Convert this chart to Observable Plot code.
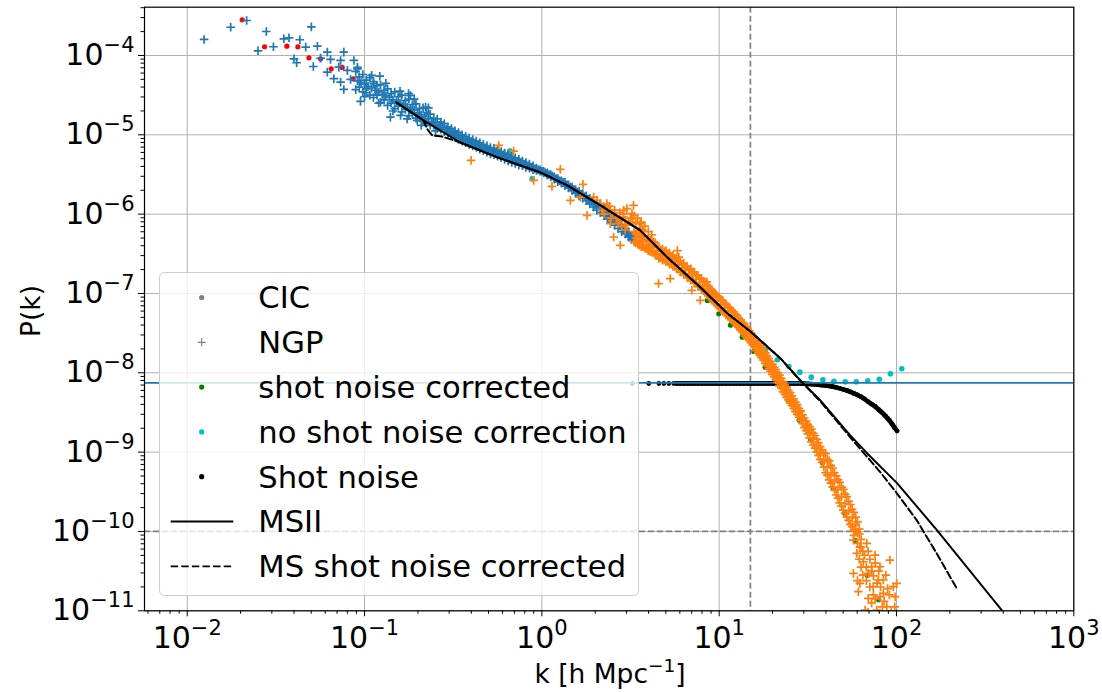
<!DOCTYPE html>
<html><head><meta charset="utf-8">
<script src="https://cdn.jsdelivr.net/npm/d3@7"></script>
<script src="https://cdn.jsdelivr.net/npm/@observablehq/plot@0.6"></script>
<style>html,body{margin:0;padding:0;background:#fff;} #chart{width:1102px;height:692px;}</style>
</head><body><div id="chart"></div>
<script>
// ---------- data (scatter clouds as [log10 k, log10 P] pairs) ----------
const cicCoarseLog = [[-1.690,-3.550],[-1.564,-3.890],[-1.438,-3.883],[-1.376,-3.890],[-1.314,-4.029],[-1.248,-4.042],[-1.188,-4.168],[-1.126,-4.151],[-1.064,-4.294]];

const ngpCoarseLog = [
[-1.905,-3.798],[-1.755,-3.644],[-1.665,-3.559],[-1.554,-3.698],[-1.601,-3.941],[-1.514,-3.890],[-1.455,-3.790],[-1.426,-3.777],[-1.398,-4.042],[-1.383,-4.092],[-1.365,-3.802],[-1.332,-3.895],[-1.300,-3.639],[-1.266,-3.883],[-1.289,-4.139],[-1.248,-4.034],[-1.210,-3.958],[-1.192,-4.050],[-1.210,-4.210],[-1.173,-4.293],[-1.117,-3.958],[-1.135,-4.063],[-1.145,-4.147],[-1.060,-4.063],[-1.097,-4.189],[-1.117,-4.428],[-1.135,-4.336],[-1.079,-4.302],[-1.023,-4.579],[-0.914,-4.261],[-0.948,-4.356],[-0.854,-4.777],[-0.741,-4.504],[-0.797,-4.756],[-0.752,-4.479],[-0.656,-4.651],[-0.990,-4.470],[-1.040,-4.170],[-0.703,-4.819],
[-1.04,-4.15],[-1.00,-4.52],[-0.96,-4.25],[-0.92,-4.60],[-0.88,-4.35],[-0.84,-4.70],[-0.80,-4.45],[-0.76,-4.80],[-0.72,-4.55],[-0.68,-4.88],[-0.64,-4.66],[-0.60,-4.95],
[-1.05,-4.20],[-1.05,-4.43],[-1.03,-4.27],[-1.03,-4.40],[-1.01,-4.24],[-1.01,-4.46],[-0.99,-4.31],[-0.99,-4.42],[-0.97,-4.28],[-0.97,-4.50],[-0.95,-4.33],[-0.95,-4.53],[-0.93,-4.38],[-0.93,-4.50],[-0.91,-4.37],[-0.91,-4.59],[-0.89,-4.44],[-0.89,-4.56],[-0.87,-4.42],[-0.87,-4.63],[-0.85,-4.48],[-0.85,-4.60],[-0.83,-4.46],[-0.83,-4.67],[-0.81,-4.52],[-0.81,-4.64],[-0.79,-4.50],[-0.79,-4.71],[-0.77,-4.57],[-0.77,-4.68],[-0.75,-4.55],[-0.75,-4.76],[-0.73,-4.62],[-0.73,-4.73],[-0.71,-4.61],[-0.71,-4.79],[-0.69,-4.67],[-0.69,-4.78],[-0.67,-4.66],[-0.67,-4.83],[-0.65,-4.72],[-0.65,-4.85],[-0.63,-4.74],[-0.63,-4.88],[-0.61,-4.79],[-0.61,-4.88],[-0.59,-4.80],[-0.59,-4.92],[-0.57,-4.84],[-0.57,-4.93],[-0.55,-4.86],[-0.55,-4.96],[-0.53,-4.90],[-0.53,-4.99],[-0.51,-4.92],[-0.51,-5.01],[-0.49,-4.95],[-0.49,-5.03],[-0.47,-4.97],[-0.47,-5.06],[-0.45,-5.00],[-0.45,-5.08],[-0.43,-5.02],[-0.43,-5.10],[-0.41,-5.04],[-0.41,-5.12],[-0.39,-5.06],[-0.39,-5.14],[-0.37,-5.08],[-0.37,-5.16],[-0.35,-5.10],[-0.35,-5.18],[-0.33,-5.12],[-0.33,-5.20],[-0.31,-5.14],[-0.31,-5.22],[-0.29,-5.16],[-0.29,-5.24],[-0.27,-5.17],[-0.27,-5.25],[-0.25,-5.19],[-0.25,-5.27],[-0.23,-5.21],[-0.23,-5.29],[-0.21,-5.23],[-0.21,-5.31],[-0.19,-5.25],[-0.19,-5.33],[-0.17,-5.27],[-0.17,-5.35],[-0.15,-5.29],[-0.15,-5.36],[-0.13,-5.31],[-0.13,-5.38],[-0.11,-5.33],[-0.11,-5.39],[-0.09,-5.35],[-0.09,-5.41],[-0.07,-5.37],[-0.07,-5.42],[-0.05,-5.39],[-0.05,-5.44],[-0.03,-5.42],[-0.03,-5.45],[-0.01,-5.44],[-0.01,-5.46],[0.01,-5.46],[0.01,-5.48],[0.03,-5.48],[0.03,-5.51],[0.05,-5.50],[0.05,-5.53],[0.07,-5.53],[0.07,-5.56],[0.09,-5.55],[0.09,-5.59],[0.11,-5.58],[0.11,-5.61],[0.13,-5.60],[0.13,-5.64],[0.15,-5.63],[0.15,-5.67],[0.17,-5.66],[0.17,-5.70],[0.19,-5.69],[0.19,-5.74],[0.21,-5.71],[0.21,-5.77],[0.23,-5.74],[0.23,-5.80],[0.25,-5.77],[0.25,-5.83],[0.27,-5.80],[0.27,-5.87],[0.29,-5.83],[0.29,-5.91],[0.31,-5.86],[0.31,-5.95],[0.33,-5.89],[0.33,-5.98],[0.35,-5.93],[0.35,-6.02],[0.37,-5.96],[0.37,-6.06],[0.39,-6.00],[0.39,-6.10],[0.41,-6.04],[0.41,-6.14],[0.43,-6.08],[0.43,-6.18],[0.45,-6.13],[0.45,-6.22],[0.47,-6.18],[0.47,-6.25],[0.49,-6.23],[0.49,-6.29],[0.505,-6.27],[0.505,-6.32],[0.515,-6.31],
[-1.04,-4.32],[-1.02,-4.34],[-1.00,-4.36],[-0.98,-4.39],[-0.96,-4.41],[-0.94,-4.44],[-0.92,-4.46],[-0.90,-4.49],[-0.88,-4.51],[-0.86,-4.53],[-0.84,-4.56],[-0.82,-4.58],[-0.80,-4.60],[-0.78,-4.62],[-0.76,-4.65],[-0.74,-4.67],[-0.72,-4.69],[-0.70,-4.72],[-0.68,-4.75],[-0.66,-4.77],[-0.64,-4.80],[-0.62,-4.83],[-0.60,-4.85],[-0.58,-4.88],[-0.56,-4.91],[-0.54,-4.93],[-0.52,-4.96],[-0.50,-4.98],[-0.48,-5.00],[-0.46,-5.03],[-0.44,-5.05],[-0.42,-5.07],[-0.40,-5.09],[-0.38,-5.11],[-0.36,-5.13],[-0.34,-5.15],[-0.32,-5.17],[-0.30,-5.19],[-0.28,-5.21],[-0.26,-5.22],[-0.24,-5.24],[-0.22,-5.26],[-0.20,-5.28],[-0.18,-5.30],[-0.16,-5.32],[-0.14,-5.34],[-0.12,-5.35],[-0.10,-5.37],[-0.08,-5.39],[-0.06,-5.41],[-0.04,-5.43],[-0.02,-5.44],[0.00,-5.46],[0.02,-5.48],[0.04,-5.50],[0.06,-5.52],[0.08,-5.55],[0.10,-5.58],[0.12,-5.60],[0.14,-5.63],[0.16,-5.66],[0.18,-5.69],[0.20,-5.72],[0.22,-5.75],[0.24,-5.78],[0.26,-5.81],[0.28,-5.84],[0.30,-5.88],[0.32,-5.91],[0.34,-5.95],[0.36,-5.99],[0.38,-6.03],[0.40,-6.06],[0.42,-6.10],[0.44,-6.14],[0.46,-6.19],[0.48,-6.23],[0.50,-6.27]];

const ngpFineLog = [
[-0.399,-5.322],[-0.243,-5.134],[-0.159,-5.205],[0.104,-5.436],[-0.046,-5.574],[0.057,-5.650],[0.232,-5.625],[0.161,-5.826],[0.255,-6.015],[0.217,-5.785],[0.292,-5.785],[0.311,-5.826],[0.405,-6.288],[0.442,-6.393],[0.517,-5.889],[0.480,-5.931],[0.367,-5.868],[0.386,-6.120],[0.461,-6.036],[0.330,-5.868],[0.386,-5.952],[0.461,-5.952],[0.508,-5.994],[0.555,-6.120],[0.658,-6.875],[0.724,-6.812],[0.893,-7.086],[0.931,-6.855],[0.846,-6.960],[0.772,-6.541],[0.764,-6.460],
[0.34,-5.95],[0.36,-5.92],[0.40,-5.99],[0.42,-6.05],[0.44,-5.98],[0.47,-6.08],[0.49,-6.10],[0.50,-6.05],[0.53,-6.12],[0.55,-6.18],[0.57,-6.20],[0.45,-6.15],[0.43,-6.12],[0.52,-6.02],
[0.35,-6.00],[0.38,-5.90],[0.41,-5.95],[0.44,-6.07],[0.46,-6.00],[0.48,-6.14],[0.51,-6.10],[0.54,-6.05],[0.56,-6.10],[0.58,-6.15],[0.60,-6.22],[0.62,-6.26],[0.39,-6.05],[0.47,-6.20],
[0.52,-6.22],[0.52,-6.35],[0.54,-6.25],[0.54,-6.38],[0.56,-6.27],[0.56,-6.41],[0.58,-6.29],[0.58,-6.43],[0.60,-6.32],[0.60,-6.46],[0.62,-6.34],[0.62,-6.48],[0.64,-6.36],[0.64,-6.50],[0.66,-6.42],[0.66,-6.56],[0.68,-6.44],[0.68,-6.58],[0.70,-6.46],[0.70,-6.60],[0.72,-6.49],[0.72,-6.63],[0.74,-6.52],[0.74,-6.66],[0.76,-6.55],[0.76,-6.69],[0.78,-6.59],[0.78,-6.73],[0.80,-6.62],[0.80,-6.76],[0.82,-6.66],[0.82,-6.80],[0.84,-6.69],[0.84,-6.83],[0.86,-6.73],[0.86,-6.87],[0.88,-6.77],[0.88,-6.91],[0.90,-6.81],[0.90,-6.95],[0.92,-6.86],[0.92,-6.98],[0.94,-6.91],[0.94,-7.03],[0.96,-6.96],[0.96,-7.08],[0.98,-7.01],[0.98,-7.13],[1.00,-7.05],[1.00,-7.18],[1.02,-7.09],[1.02,-7.22],[1.04,-7.14],[1.04,-7.27],[1.06,-7.18],[1.06,-7.31],[1.08,-7.23],[1.08,-7.36],[1.10,-7.28],[1.10,-7.41],[1.12,-7.33],[1.12,-7.46],[1.14,-7.38],[1.14,-7.51],[1.16,-7.44],[1.16,-7.57],[1.18,-7.50],[1.18,-7.62],[1.20,-7.56],[1.20,-7.68],[1.22,-7.63],[1.22,-7.75],[1.24,-7.69],[1.24,-7.81],[1.26,-7.75],[1.26,-7.88],[1.28,-7.82],[1.28,-7.95],[1.30,-7.89],[1.30,-8.02],[1.32,-7.96],[1.32,-8.09],[1.34,-8.03],[1.34,-8.16],[1.36,-8.11],[1.36,-8.24],[1.38,-8.18],[1.38,-8.31],[1.40,-8.25],[1.40,-8.38],[1.42,-8.33],[1.42,-8.45],[1.44,-8.40],[1.44,-8.52],[1.46,-8.48],[1.46,-8.60],[1.48,-8.57],[1.48,-8.69],[1.50,-8.65],[1.50,-8.77],[1.52,-8.71],[1.52,-8.87],[1.54,-8.79],[1.54,-8.95],[1.56,-8.88],[1.56,-9.04],[1.58,-8.97],[1.58,-9.13],[1.60,-9.02],[1.60,-9.26],[1.62,-9.11],[1.62,-9.35],[1.64,-9.20],[1.64,-9.44],[1.66,-9.30],[1.66,-9.54],[1.68,-9.38],[1.68,-9.64],[1.70,-9.47],[1.70,-9.73],[1.72,-9.56],[1.72,-9.82],[1.74,-9.66],[1.74,-9.91],[1.76,-9.76],[1.76,-9.98],[1.78,-9.88],[1.78,-10.02],
[0.53,-6.30],[0.55,-6.33],[0.57,-6.35],[0.59,-6.38],[0.61,-6.40],[0.63,-6.42],[0.65,-6.47],[0.67,-6.50],[0.69,-6.52],[0.71,-6.55],[0.73,-6.58],[0.75,-6.61],[0.77,-6.64],[0.79,-6.68],[0.81,-6.71],[0.83,-6.75],[0.85,-6.78],[0.87,-6.82],[0.89,-6.86],[0.91,-6.90],[0.93,-6.95],[0.95,-7.00],[0.97,-7.05],[0.99,-7.09],[1.01,-7.14],[1.03,-7.18],[1.05,-7.23],[1.07,-7.27],[1.09,-7.32],[1.11,-7.37],[1.13,-7.42],[1.15,-7.48],[1.17,-7.53],[1.19,-7.59],[1.21,-7.66],[1.23,-7.72],[1.25,-7.78],[1.27,-7.85],[1.29,-7.92],[1.31,-7.99],[1.33,-8.06],[1.35,-8.13],[1.37,-8.21],[1.39,-8.28],[1.41,-8.35],[1.43,-8.43],[1.45,-8.50],[1.47,-8.59],[1.49,-8.67],[1.51,-8.75],[1.53,-8.83],[1.55,-8.92],[1.57,-9.01],[1.59,-9.10],[1.61,-9.19],[1.63,-9.28],[1.65,-9.37],[1.67,-9.47],[1.69,-9.56],[1.71,-9.65],[1.73,-9.74],[1.75,-9.83],[1.77,-9.91],[1.79,-9.97],
[0.53,-6.25],[0.53,-6.36],[0.55,-6.27],[0.55,-6.39],[0.57,-6.29],[0.57,-6.41],[0.59,-6.32],[0.59,-6.44],[0.61,-6.33],[0.61,-6.47],[0.63,-6.35],[0.63,-6.49],[0.65,-6.42],[0.65,-6.52],[0.67,-6.45],[0.67,-6.55],[0.69,-6.47],[0.69,-6.57],[0.71,-6.50],[0.71,-6.60],[0.73,-6.53],[0.73,-6.63],[0.75,-6.56],[0.75,-6.66],[0.77,-6.59],[0.77,-6.69],[0.79,-6.63],[0.79,-6.73],[0.81,-6.66],[0.81,-6.76],[0.83,-6.70],[0.83,-6.80],[0.85,-6.73],[0.85,-6.83],[0.87,-6.77],[0.87,-6.87],[0.89,-6.81],[0.89,-6.91],[0.91,-6.85],[0.91,-6.95],[0.93,-6.89],[0.93,-7.01],[0.95,-6.94],[0.95,-7.06],[0.97,-6.99],[0.97,-7.11],[0.99,-7.03],[0.99,-7.15],[1.01,-7.08],[1.01,-7.20],[1.03,-7.12],[1.03,-7.24],[1.05,-7.17],[1.05,-7.29],[1.07,-7.21],[1.07,-7.33],[1.09,-7.26],[1.09,-7.38],[1.11,-7.31],[1.11,-7.43],[1.13,-7.36],[1.13,-7.48],[1.15,-7.42],[1.15,-7.54],[1.17,-7.47],[1.17,-7.59],[1.19,-7.53],[1.19,-7.65],[1.21,-7.60],[1.21,-7.72],[1.23,-7.66],[1.23,-7.78],[1.25,-7.72],[1.25,-7.84],[1.27,-7.79],[1.27,-7.91],[1.29,-7.86],[1.29,-7.98],[1.31,-7.93],[1.31,-8.05],[1.33,-8.00],[1.33,-8.12],[1.35,-8.07],[1.35,-8.19],[1.37,-8.15],[1.37,-8.27],[1.39,-8.22],[1.39,-8.34],[1.41,-8.29],[1.41,-8.41],[1.43,-8.37],[1.43,-8.49],[1.45,-8.45],[1.45,-8.56],[1.47,-8.53],[1.47,-8.64],[1.49,-8.61],[1.49,-8.73],[1.51,-8.68],[1.51,-8.82],[1.53,-8.76],[1.53,-8.91],[1.55,-8.84],[1.55,-9.00],[1.57,-8.93],[1.57,-9.09],[1.59,-9.01],[1.59,-9.19],[1.61,-9.09],[1.61,-9.29],[1.63,-9.17],[1.63,-9.39],[1.65,-9.26],[1.65,-9.48],[1.67,-9.35],[1.67,-9.58],[1.69,-9.44],[1.69,-9.68],[1.71,-9.53],[1.71,-9.77],[1.73,-9.62],[1.73,-9.86],[1.75,-9.72],[1.75,-9.94],[1.77,-9.82],[1.77,-10.00],
[1.79,-10.03],[1.80,-10.10],[1.757,-10.108],[1.794,-10.193],[1.832,-10.150],[1.776,-10.276],[1.813,-10.382],[1.757,-10.528],[1.841,-10.528],[1.879,-10.297],[1.907,-10.444],[1.794,-10.654],[1.869,-10.696],[1.926,-10.612],[1.963,-10.360],[1.785,-10.759],[1.841,-10.843],[1.907,-10.822],[1.945,-10.948],[1.992,-10.822],[2.001,-10.654],[1.889,-10.990],[1.823,-10.990],[1.982,-10.696],[1.926,-10.780],[1.860,-10.444],[1.898,-10.612],[1.81,-10.25],[1.85,-10.35],[1.80,-10.45],[1.87,-10.56],[1.83,-10.62],[1.90,-10.50],[1.95,-10.72],[1.86,-10.90],[1.92,-10.95],[1.97,-11.00],[1.84,-11.02],[1.90,-11.04],
[1.76,-10.05],[1.78,-10.15],[1.80,-10.20],[1.82,-10.30],[1.79,-10.35],[1.84,-10.25],[1.83,-10.45],[1.86,-10.50],[1.88,-10.40],[1.89,-10.65],[1.85,-10.70],[1.91,-10.70],[1.94,-10.55],[1.96,-10.80],[1.88,-10.85],[1.93,-10.88],[1.99,-10.95],[1.81,-10.55],[1.78,-10.62],[1.87,-10.80],[1.95,-11.05],[2.00,-11.03],[1.82,-11.06]];

const shotCorrectedLog = [[-0.180,-5.206],[-0.054,-5.554],[0.369,-6.004],[0.933,-7.088],[0.998,-7.256],[1.064,-7.400],[1.130,-7.551],[1.196,-7.730],[1.259,-7.929],[1.325,-8.140],[1.390,-8.349],[1.452,-8.597],[1.516,-8.844],[1.582,-9.134],[1.644,-9.455],[1.708,-9.770],[1.770,-10.114],[1.835,-10.555],[1.900,-10.861]];

const noCorrectionLog = [[-0.180,-5.206],[-0.054,-5.554],[0.369,-6.004],[1.262,-7.710],[1.328,-7.836],[1.393,-7.920],[1.455,-7.992],[1.519,-8.055],[1.585,-8.088],[1.647,-8.106],[1.711,-8.113],[1.773,-8.113],[1.838,-8.101],[1.903,-8.081],[1.966,-8.012],[2.030,-7.949]];

const shotNoiseLog = [[0.510,-8.135],[0.603,-8.135],[0.660,-8.135],[0.688,-8.135],[0.716,-8.135],[0.744,-8.135],[0.76,-8.135],[0.78,-8.135],[0.80,-8.135],[0.82,-8.135],[0.84,-8.135],[0.86,-8.135],[0.88,-8.135],[0.90,-8.135],[0.92,-8.135],[0.94,-8.135],[0.96,-8.135],[0.98,-8.135],[1.00,-8.135],[1.02,-8.135],[1.04,-8.135],[1.06,-8.135],[1.08,-8.135],[1.10,-8.135],[1.12,-8.135],[1.14,-8.135],[1.16,-8.135],[1.18,-8.135],[1.20,-8.135],[1.22,-8.135],[1.24,-8.135],[1.26,-8.135],[1.28,-8.135],[1.30,-8.135],[1.32,-8.135],[1.34,-8.135],[1.36,-8.135],[1.38,-8.135],[1.40,-8.135],[1.42,-8.135],[1.44,-8.135],[1.46,-8.135],[1.48,-8.137],[1.50,-8.140],[1.52,-8.143],[1.54,-8.147],[1.56,-8.151],[1.58,-8.156],[1.60,-8.161],[1.62,-8.167],[1.64,-8.174],[1.66,-8.184],[1.68,-8.196],[1.70,-8.209],[1.72,-8.223],[1.74,-8.240],[1.76,-8.260],[1.78,-8.280],[1.80,-8.302],[1.82,-8.330],[1.84,-8.365],[1.86,-8.395],[1.88,-8.425],[1.90,-8.465],[1.91,-8.485],[1.92,-8.505],[1.93,-8.527],[1.94,-8.550],[1.95,-8.575],[1.96,-8.600],[1.97,-8.630],[1.98,-8.660],[1.99,-8.695],[2.003,-8.732]];

// model lines (k in h/Mpc, P)
const msiiK = [0.151,0.215,0.347,0.561,0.98,1.39,2.05,3.59,5.09,7.82,11.1,14.95,22.1,28.6,37.1,54.7,68.2,100.7,169,395];
const msiiP = [2.56e-5,1.52e-5,8.0e-6,5.19e-6,3.36e-6,2.31e-6,1.37e-6,6.25e-7,2.86e-7,1.20e-7,5.63e-8,3.34e-8,1.53e-8,8.07e-9,4.52e-9,1.64e-9,9.7e-10,4.07e-10,1.04e-10,1.0e-11];
const msShotK = [0.151,0.215,0.225,0.241,0.274,0.347,0.561,0.98,1.39,2.05,3.59,5.09,7.82,11.1,14.95,22.1,28.6,37.1,54.7,80.7,100.3,130,168,218];
const msShotP = [2.56e-5,1.52e-5,1.19e-5,9.8e-6,9.5e-6,8.0e-6,5.19e-6,3.36e-6,2.31e-6,1.37e-6,6.25e-7,2.86e-7,1.20e-7,5.63e-8,3.34e-8,1.53e-8,8.0e-9,4.4e-9,1.55e-9,5.65e-10,3.05e-10,1.39e-10,5.35e-11,1.94e-11];

const shotNoiseLevel = [7.46e-9];
const refPowerLevel = [1e-10];
const refK = [15];

const xTickValues = [1e-2,1e-1,1e0,1e1,1e2,1e3];
const xTickExponents = ["−2","−1","0","1","2","3"];
const yTickValues = [1e-11,1e-10,1e-9,1e-8,1e-7,1e-6,1e-5,1e-4];
const yTickExponents = ["−11","−10","−9","−8","−7","−6","−5","−4"];

const legendLabels = ["CIC","NGP","shot noise corrected","no shot noise correction","Shot noise","MSII","MS shot noise corrected"];
const legendKinds = ["dot","plus","dot","dot","dot","line","dash"];
const legendColors = ["grey","grey","#008000","#00bfbf","black","black","black"];

// ---------- build ----------
const fromLog = arr => arr.map(([lk, lp]) => ({k: 10 ** lk, p: 10 ** lp}));
const zip = (ks, ps) => ks.map((k, i) => ({k, p: ps[i]}));
const plusSymbol = {draw(ctx, size) { const r = Math.sqrt(size / Math.PI); ctx.moveTo(-r, 0); ctx.lineTo(r, 0); ctx.moveTo(0, -r); ctx.lineTo(0, r); }};

const xDomain = [5.74e-3, 1e3];
const yDomain = [1e-11, 4.06e-4];
const xMinor = d3.scaleLog().domain(xDomain).ticks(40).filter(v => !xTickValues.some(t => Math.abs(t - v) / t < 1e-6));
const yMinor = d3.scaleLog().domain(yDomain).ticks(40).filter(v => !yTickValues.some(t => Math.abs(t - v) / t < 1e-6));
const xLab = new Map(xTickValues.map((v, i) => [v, "10^" + xTickExponents[i]]));
const yLab = new Map(yTickValues.map((v, i) => [v, "10^" + yTickExponents[i]]));

const shotPts = fromLog(shotNoiseLog);

const chart = Plot.plot({
  width: 1102, height: 692,
  marginLeft: 144, marginRight: 28.7, marginTop: 6.7, marginBottom: 81.7,
  x: {type: "log", domain: xDomain, label: null},
  y: {type: "log", domain: yDomain, label: null},
  style: {fontFamily: "'DejaVu Sans', sans-serif", fontSize: "30px", background: "white", color: "black"},
  marks: [
    Plot.gridX(xTickValues, {stroke: "#b0b0b0", strokeOpacity: 1, strokeWidth: 1}),
    Plot.gridY(yTickValues, {stroke: "#b0b0b0", strokeOpacity: 1, strokeWidth: 1}),
    Plot.ruleY(refPowerLevel, {stroke: "grey", strokeWidth: 1.7, strokeDasharray: "6,3"}),
    Plot.ruleX(refK, {stroke: "grey", strokeWidth: 1.7, strokeDasharray: "6,3"}),
    Plot.dot(fromLog(cicCoarseLog), {x: "k", y: "p", r: 2.6, fill: "red", clip: true}),
    Plot.dot(fromLog(shotCorrectedLog), {x: "k", y: "p", r: 2.6, fill: "#008000", clip: true}),
    Plot.dot(fromLog(noCorrectionLog), {x: "k", y: "p", r: 2.8, fill: "#00bfbf", clip: true}),
    Plot.line(shotPts.filter(d => d.k > 5.6), {x: "k", y: "p", stroke: "black", strokeWidth: 4.6, clip: true}),
    Plot.dot(shotPts, {x: "k", y: "p", r: 2.4, fill: "black", clip: true}),
    Plot.ruleY(shotNoiseLevel, {stroke: "#1f77b4", strokeWidth: 1.8}),
    Plot.dot(fromLog(ngpCoarseLog), {x: "k", y: "p", symbol: plusSymbol, r: 4.3, fill: "none", stroke: "#1f77b4", strokeWidth: 1.7, clip: true}),
    Plot.dot(fromLog(ngpFineLog), {x: "k", y: "p", symbol: plusSymbol, r: 4.3, fill: "none", stroke: "#ff7f0e", strokeWidth: 1.7, clip: true}),
    Plot.line(zip(msiiK, msiiP), {x: "k", y: "p", stroke: "black", strokeWidth: 2, clip: true}),
    Plot.line(zip(msShotK, msShotP), {x: "k", y: "p", stroke: "black", strokeWidth: 2, strokeDasharray: "7.4,3.2", clip: true}),
    Plot.frame({stroke: "black", strokeWidth: 1.2}),
    Plot.axisX(xMinor, {tickSize: 3.5, tickFormat: () => "", label: null}),
    Plot.axisY(yMinor, {tickSize: 3.5, tickFormat: () => "", label: null}),
    Plot.axisX(xTickValues, {tickSize: 6, tickPadding: 10, tickFormat: d => xLab.get(d), label: null}),
    Plot.axisY(yTickValues, {tickSize: 6, tickPadding: 4, tickFormat: d => yLab.get(d), label: null})
  ]
});
document.getElementById("chart").appendChild(chart);

const svg = d3.select(chart);
svg.selectAll('g[aria-label="x-axis tick label"] text, g[aria-label="y-axis tick label"] text').each(function() {
  const t = d3.select(this); const s = t.text();
  if (!s.includes("^")) return;
  const [base, exp] = s.split("^");
  t.text(null);
  t.append("tspan").text(base);
  t.append("tspan").attr("dy", "-13").attr("font-size", "21px").text(exp);
});

// axis titles
const xt = svg.append("text").attr("x", 610).attr("y", 683).attr("text-anchor", "middle").attr("font-size", 26.5).attr("fill", "black");
xt.append("tspan").text("k [h Mpc");
xt.append("tspan").attr("dy", "-11").attr("font-size", "18.5px").text("−1");
xt.append("tspan").attr("dy", "11").text("]");
svg.append("text").attr("transform", "translate(30,311) rotate(-90)").attr("text-anchor", "middle").attr("dy", "0.36em").attr("font-size", 26.5).attr("fill", "black").text("P(k)");

// legend
const lg = svg.append("g").attr("aria-label", "legend").attr("text-anchor", "start");
lg.append("rect").attr("x", 159.5).attr("y", 272.5).attr("width", 479).attr("height", 323).attr("rx", 5)
  .attr("fill", "white").attr("fill-opacity", 0.8).attr("stroke", "#cccccc").attr("stroke-width", 1);
legendLabels.forEach((lab, i) => {
  const cy = 297.5 + i * 44.8;
  const kind = legendKinds[i], col = legendColors[i];
  if (kind === "dot") lg.append("circle").attr("cx", 201.7).attr("cy", cy).attr("r", 2.6).attr("fill", col);
  else if (kind === "plus") lg.append("path").attr("d", `M197.7,${cy}H205.7M201.7,${cy - 4}V${cy + 4}`).attr("stroke", col).attr("stroke-width", 1.2);
  else lg.append("line").attr("x1", 170.7).attr("x2", 233.3).attr("y1", cy).attr("y2", cy).attr("stroke", col).attr("stroke-width", 1.8)
    .attr("stroke-dasharray", kind === "dash" ? "7.4,3.2" : null);
  lg.append("text").attr("x", 258.3).attr("y", cy + 10.8).attr("text-anchor", "start").attr("font-size", 30.6).attr("fill", "black").text(lab);
});
</script></body></html>
